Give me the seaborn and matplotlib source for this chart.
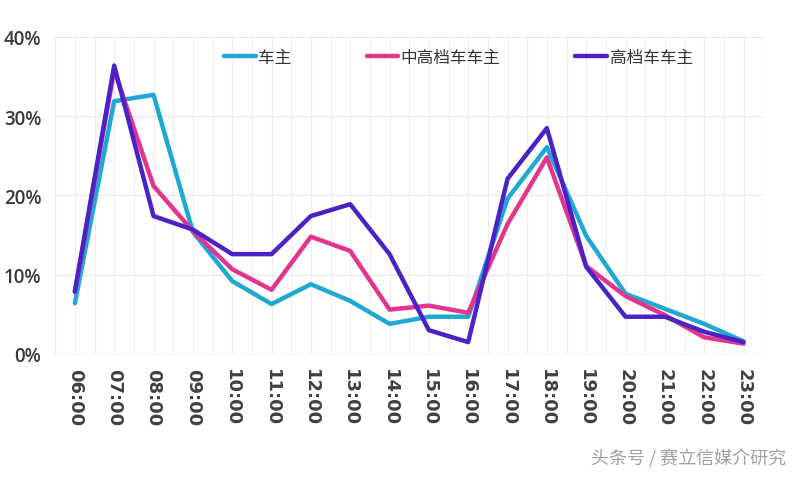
import matplotlib
matplotlib.use("Agg")
import matplotlib.pyplot as plt
import seaborn as sns
import pandas as pd
import numpy as np

hours = ["06:00", "07:00", "08:00", "09:00", "10:00", "11:00", "12:00", "13:00", "14:00",
         "15:00", "16:00", "17:00", "18:00", "19:00", "20:00", "21:00", "22:00", "23:00"]
owners = [6.4, 31.9, 32.7, 15.4, 9.2, 6.3, 8.8, 6.7, 3.8, 4.7, 4.7, 19.6, 26.1, 14.9, 7.6, 5.7, 3.8, 1.6]
mid_high = [7.8, 35.8, 21.2, 15.5, 10.7, 8.1, 14.8, 13.0, 5.6, 6.1, 5.2, 16.4, 24.8, 11.1, 7.3, 4.9, 2.1, 1.3]
high_end = [7.9, 36.4, 17.4, 15.7, 12.6, 12.6, 17.4, 18.9, 12.6, 3.0, 1.5, 22.1, 28.5, 11.0, 4.7, 4.7, 2.8, 1.5]
series_names = ["车主", "中高档车车主", "高档车车主"]
yticks = [0, 10, 20, 30, 40]

sns.set_theme(style="white")
plt.rcParams["font.family"] = ["Noto Sans CJK SC", "DejaVu Sans"]

rows = []
for name, vals in zip(series_names, [owners, mid_high, high_end]):
    for i, (h, v) in enumerate(zip(hours, vals)):
        rows.append({"idx": i, "hour": h, "value": v, "series": name})
df = pd.DataFrame(rows)

palette = {"车主": "#1ea8d2", "中高档车车主": "#e2358e", "高档车车主": "#4a22c6"}

fig = plt.figure(figsize=(8, 4.81), dpi=100)
ax = fig.add_axes([0.069, 0.262, 0.885, 0.659])

# faint grid
for xv in np.arange(-0.5, 17.51, 0.5):
    ax.axvline(xv, color="#eeeeee", lw=0.8, zorder=0)
for yv in yticks[1:]:
    ax.axhline(yv, color="#e6e6e6", lw=0.8, zorder=0)
ax.axhline(0, color="#d0d0d0", lw=1.0, zorder=1)

sns.lineplot(data=df, x="idx", y="value", hue="series", hue_order=series_names,
             palette=palette, linewidth=3.2, ax=ax, legend=False, zorder=3)

ax.set_xlim(-0.5, 17.5)
ax.set_ylim(0, 40)
ax.set_xticks(range(len(hours)))
ax.set_xticklabels(hours, rotation=-90, fontsize=13, fontweight="bold", color="#404040",
                   family=["DejaVu Sans"])
ax.set_yticks(yticks)
ax.set_yticklabels([f"{t}%" for t in yticks], fontsize=13.5, fontweight="semibold", color="#3a3a3a",
                   family=["Open Sans", "DejaVu Sans"])
ax.tick_params(axis="y", length=0, pad=10)
ax.tick_params(axis="x", length=0, pad=10)
ax.set_xlabel("")
ax.set_ylabel("")
for s in ax.spines.values():
    s.set_visible(False)

# legend
handles = [plt.Line2D([0], [0], color=palette[n], lw=3.2) for n in series_names]
leg = fig.legend(handles, series_names, loc="center", bbox_to_anchor=(0.573, 0.879), ncol=3,
                 frameon=False, fontsize=12, handlelength=1.9, handletextpad=0.15,
                 columnspacing=4.5)
for t in leg.get_texts():
    t.set_color("#333333")

fig.text(0.983, 0.025, "头条号 / 赛立信媒介研究", ha="right", va="bottom",
         fontsize=13, color="#a0a0a0")

fig.savefig("out.png", dpi=100)
